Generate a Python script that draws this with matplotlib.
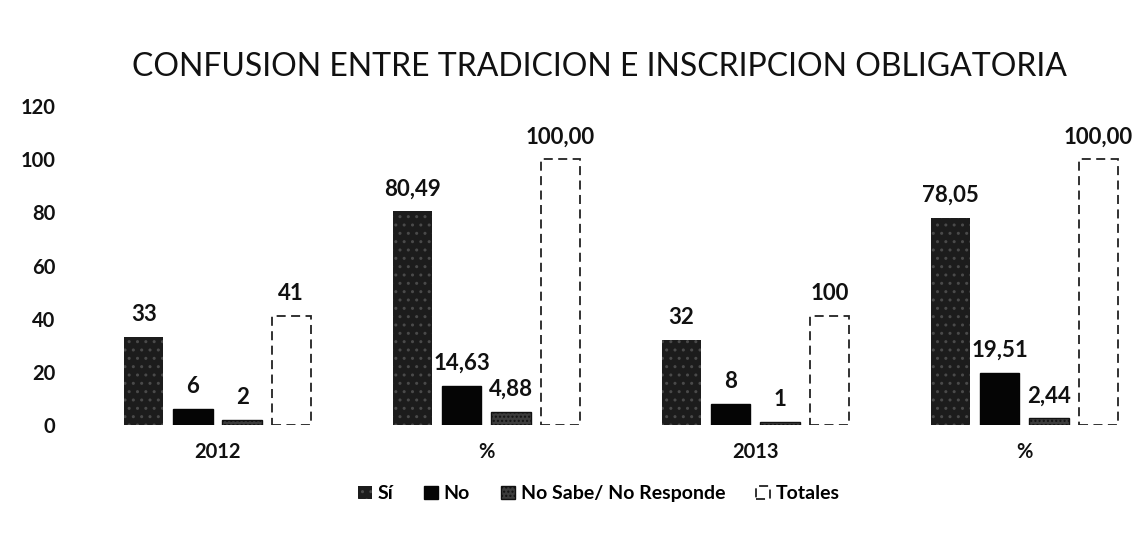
import numpy as np
import matplotlib
matplotlib.use('Agg')
import matplotlib.pyplot as plt

plt.rcParams['font.family'] = ['Lato', 'DejaVu Sans']
plt.rcParams['hatch.linewidth'] = 1.0

categories = ['2012', '%', '2013', '%']
series = ['Sí', 'No', 'No Sabe/ No Responde', 'Totales']
si = [33, 80.49, 32, 78.05]
no = [6, 14.63, 8, 19.51]
nsnr = [2, 4.88, 1, 2.44]
totales = [41, 100.00, 41, 100.00]

si_labels = ['33', '80,49', '32', '78,05']
no_labels = ['6', '14,63', '8', '19,51']
nsnr_labels = ['2', '4,88', '1', '2,44']
tot_labels = ['41', '100,00', '100', '100,00']

fig = plt.figure(figsize=(11.34, 5.42), dpi=100)
ax = fig.add_axes([0.0732, 0.216, 0.925, 0.588])

x = np.arange(len(categories))
w = 0.146
step = 0.183

styles = [
    dict(facecolor='#1c1c1c', edgecolor='#4a4a4a', hatch='..', linewidth=0),
    dict(color='#050505', edgecolor='#050505'),
    dict(facecolor='#3c3c3c', edgecolor='#111111', hatch='....', linewidth=1.0),
    dict(facecolor='white', edgecolor='#222222', linestyle=(0, (5, 3)), linewidth=1.3),
]
vals = [si, no, nsnr, totales]
labs = [si_labels, no_labels, nsnr_labels, tot_labels]

handles = []
for i, (v, lab, st) in enumerate(zip(vals, labs, styles)):
    pos = x + (i - 1.5) * step
    bars = ax.bar(pos, v, w, label=series[i], **st)
    handles.append(bars)
    for p, h, t in zip(pos, v, lab):
        ax.text(p, h + 4.5, t, ha='center', va='bottom', fontsize=16,
                fontweight='bold', color='#111111')

ax.set_ylim(0, 120)
ax.set_xlim(-0.5, 3.4)
ax.set_yticks(range(0, 121, 20))
ax.set_xticks(x)
ax.set_xticklabels(categories)
ax.tick_params(length=0, labelsize=14.5)
ax.tick_params(axis='x', pad=12)
ax.tick_params(axis='y', pad=20)
for lbl in ax.get_xticklabels() + ax.get_yticklabels():
    lbl.set_fontweight('bold')
    lbl.set_color('#111111')
for s in ax.spines.values():
    s.set_visible(False)

fig.text(0.529, 0.876, 'CONFUSION ENTRE TRADICION E INSCRIPCION OBLIGATORIA',
         ha='center', va='center', fontsize=23, color='#111111')

leg = fig.legend(handles=handles, loc='center', bbox_to_anchor=(0.528, 0.089),
                 ncol=4, frameon=False, fontsize=14, handlelength=0.7,
                 handleheight=0.7, handletextpad=0.3, columnspacing=1.6)
for t in leg.get_texts():
    t.set_fontweight('bold')

fig.savefig('out.png', dpi=100)
